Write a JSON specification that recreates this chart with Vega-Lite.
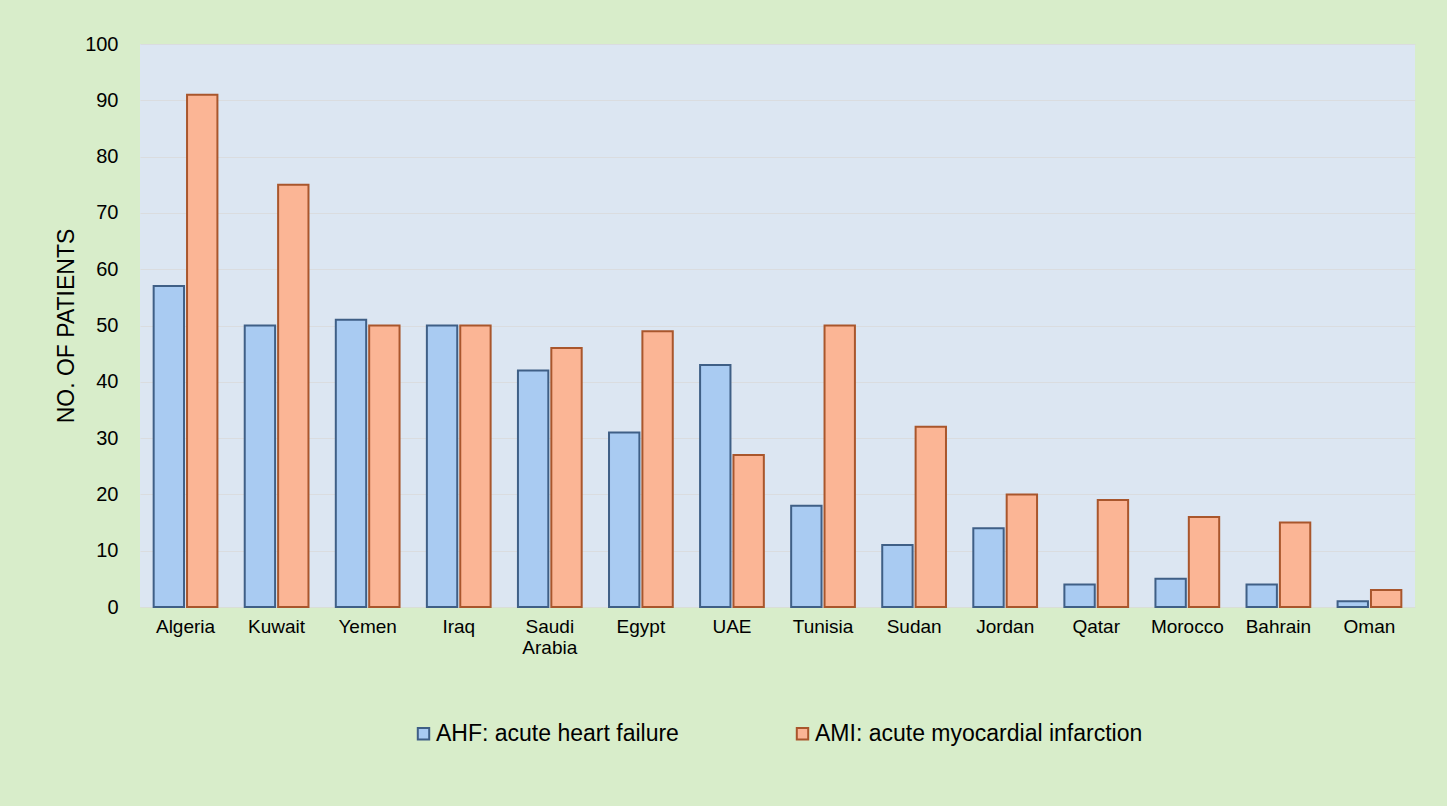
{
  "$schema": "https://vega.github.io/schema/vega-lite/v6.json",
  "width": 1275,
  "height": 563,
  "autosize": {"type": "none"},
  "padding": {"left": 140, "top": 44, "right": 32, "bottom": 199},
  "background": "#d8edca",
  "config": {
    "font": "Liberation Sans",
    "view": {"fill": "#dce6f2", "stroke": null},
    "legend": {"layout": {"bottom": {"anchor": "middle"}}}
  },
  "data": {
    "values": [
      {"country": "Algeria", "series": "AHF: acute heart failure", "patients": 57},
      {"country": "Algeria", "series": "AMI: acute myocardial infarction", "patients": 91},
      {"country": "Kuwait", "series": "AHF: acute heart failure", "patients": 50},
      {"country": "Kuwait", "series": "AMI: acute myocardial infarction", "patients": 75},
      {"country": "Yemen", "series": "AHF: acute heart failure", "patients": 51},
      {"country": "Yemen", "series": "AMI: acute myocardial infarction", "patients": 50},
      {"country": "Iraq", "series": "AHF: acute heart failure", "patients": 50},
      {"country": "Iraq", "series": "AMI: acute myocardial infarction", "patients": 50},
      {"country": "Saudi Arabia", "series": "AHF: acute heart failure", "patients": 42},
      {"country": "Saudi Arabia", "series": "AMI: acute myocardial infarction", "patients": 46},
      {"country": "Egypt", "series": "AHF: acute heart failure", "patients": 31},
      {"country": "Egypt", "series": "AMI: acute myocardial infarction", "patients": 49},
      {"country": "UAE", "series": "AHF: acute heart failure", "patients": 43},
      {"country": "UAE", "series": "AMI: acute myocardial infarction", "patients": 27},
      {"country": "Tunisia", "series": "AHF: acute heart failure", "patients": 18},
      {"country": "Tunisia", "series": "AMI: acute myocardial infarction", "patients": 50},
      {"country": "Sudan", "series": "AHF: acute heart failure", "patients": 11},
      {"country": "Sudan", "series": "AMI: acute myocardial infarction", "patients": 32},
      {"country": "Jordan", "series": "AHF: acute heart failure", "patients": 14},
      {"country": "Jordan", "series": "AMI: acute myocardial infarction", "patients": 20},
      {"country": "Qatar", "series": "AHF: acute heart failure", "patients": 4},
      {"country": "Qatar", "series": "AMI: acute myocardial infarction", "patients": 19},
      {"country": "Morocco", "series": "AHF: acute heart failure", "patients": 5},
      {"country": "Morocco", "series": "AMI: acute myocardial infarction", "patients": 16},
      {"country": "Bahrain", "series": "AHF: acute heart failure", "patients": 4},
      {"country": "Bahrain", "series": "AMI: acute myocardial infarction", "patients": 15},
      {"country": "Oman", "series": "AHF: acute heart failure", "patients": 1},
      {"country": "Oman", "series": "AMI: acute myocardial infarction", "patients": 3}
    ]
  },
  "mark": {"type": "bar", "strokeWidth": 2},
  "encoding": {
    "x": {
      "field": "country",
      "type": "nominal",
      "sort": null,
      "scale": {"paddingInner": 0.3, "paddingOuter": 0.15},
      "axis": {
        "title": null,
        "labelAngle": 0,
        "labelFontSize": 19,
        "labelColor": "#000000",
        "labelPadding": 10,
        "labelLineHeight": 21,
        "ticks": false,
        "domain": false,
        "labelExpr": "datum.value == 'Saudi Arabia' ? ['Saudi', 'Arabia'] : datum.label"
      }
    },
    "xOffset": {"field": "series", "type": "nominal", "scale": {"paddingInner": 0.09}},
    "y": {
      "field": "patients",
      "type": "quantitative",
      "scale": {"domain": [0, 100], "nice": false},
      "axis": {
        "title": "NO. OF PATIENTS",
        "titleFontSize": 23,
        "titleFontWeight": "normal",
        "titleColor": "#000000",
        "titlePadding": 6,
        "values": [0, 10, 20, 30, 40, 50, 60, 70, 80, 90, 100],
        "labelFontSize": 20,
        "labelColor": "#000000",
        "labelPadding": 22,
        "ticks": false,
        "domain": false,
        "gridColor": "#d9d9d9",
        "gridOpacity": 0.8
      }
    },
    "color": {
      "field": "series",
      "type": "nominal",
      "scale": {"range": ["#a9cbf2", "#fbb595"]},
      "legend": {
        "title": null,
        "orient": "bottom",
        "direction": "horizontal",
        "offset": 65,
        "labelFontSize": 23,
        "labelColor": "#000000",
        "symbolType": "square",
        "symbolSize": 130,
        "symbolStrokeWidth": 2,
        "columnPadding": 112,
        "labelOffset": 1,
        "labelLimit": 500
      }
    },
    "stroke": {
      "field": "series",
      "type": "nominal",
      "scale": {"range": ["#3f5f86", "#a9562c"]},
      "legend": null
    }
  }
}
